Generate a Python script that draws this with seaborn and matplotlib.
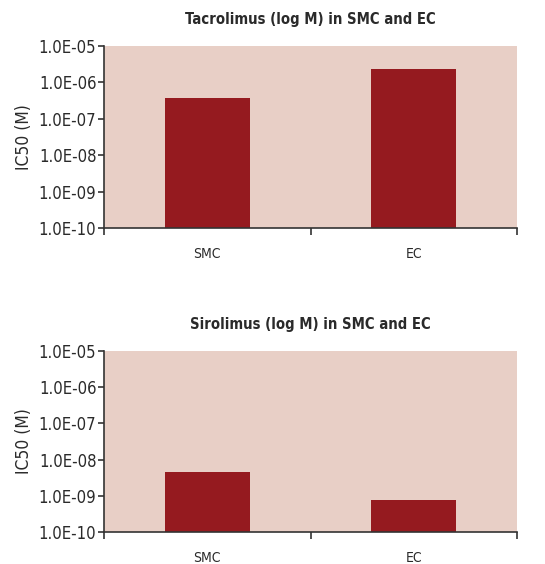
import matplotlib
matplotlib.use("Agg")
import matplotlib.pyplot as plt
import matplotlib.ticker as mticker
import seaborn as sns
import pandas as pd
import numpy as np

cells = ["SMC", "EC"]
tacrolimus_ic50 = [3.7e-7, 2.3e-6]
sirolimus_ic50 = [4.6e-9, 7.6e-10]
titles = ["Tacrolimus (log M) in SMC and EC", "Sirolimus (log M) in SMC and EC"]
ytick_values = [1e-10, 1e-9, 1e-8, 1e-7, 1e-6, 1e-5]
ytick_labels = ["1.0E-10", "1.0E-09", "1.0E-08", "1.0E-07", "1.0E-06", "1.0E-05"]
ylabel = "IC50 (M)"

sns.set_theme(style="white")
plt.rcParams["font.family"] = ["DejaVu Sans"]
plt.rcParams["font.stretch"] = "condensed"

BAR = "#951A1F"
BG = "#E8CFC6"
SPINE = "#333333"
TXT = "#2a2a2a"

fig = plt.figure(figsize=(5.45, 5.64), dpi=100)
ax1 = fig.add_axes([104/545, 1-228/564, (517-104)/545, (228-46)/564])
ax2 = fig.add_axes([104/545, 1-532/564, (517-104)/545, (532-351)/564])

for ax, vals, title in [(ax1, tacrolimus_ic50, titles[0]), (ax2, sirolimus_ic50, titles[1])]:
    df = pd.DataFrame({"cell": cells, "ic50": vals})
    ax.set_yscale("log")
    sns.barplot(data=df, x="cell", y="ic50", ax=ax, color=BAR, width=0.41,
                saturation=1, edgecolor="none")
    ax.set_facecolor(BG)
    ax.set_ylim(1e-10, 1e-5)
    ax.set_xlim(-0.5, 1.5)
    ax.yaxis.set_major_locator(mticker.FixedLocator(ytick_values))
    ax.yaxis.set_minor_locator(mticker.NullLocator())
    ax.set_yticklabels(ytick_labels)
    ax.set_xticks([0, 1])
    ax.set_xticklabels(cells)
    ax.xaxis.set_minor_locator(mticker.FixedLocator([-0.5, 0.5, 1.5]))
    ax.tick_params(axis="x", which="major", length=0, pad=14, labelsize=10, colors=TXT)
    ax.tick_params(axis="x", which="minor", length=5, width=1.2, color=SPINE, direction="out", bottom=True)
    ax.tick_params(axis="y", which="major", length=4, width=1.2, color=SPINE, direction="out",
                   left=True, labelsize=12, pad=1.5, colors=TXT)
    for s in ["top", "right"]:
        ax.spines[s].set_visible(False)
    for s in ["left", "bottom"]:
        ax.spines[s].set_visible(True)
        ax.spines[s].set_color(SPINE)
        ax.spines[s].set_linewidth(1.2)
    ax.set_xlabel("")
    ax.set_ylabel(ylabel, fontsize=12.5, color=TXT, labelpad=4)
    ax.set_title(title, fontsize=10.6, fontweight="bold", color=TXT, pad=16)
    ax.grid(False)

fig.savefig("out.png", dpi=100)
